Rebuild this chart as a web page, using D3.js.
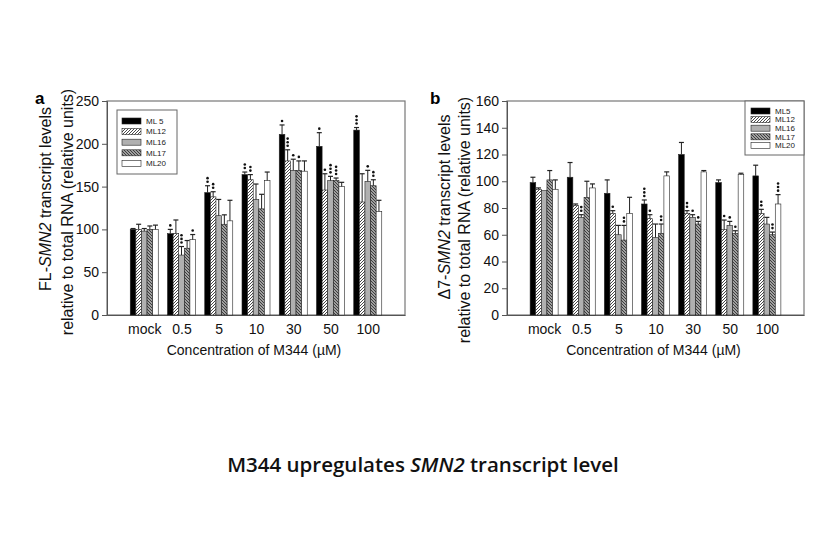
<!DOCTYPE html>
<html>
<head>
<meta charset="utf-8">
<script src="https://d3js.org/d3.v7.min.js"></script>
<style>
  body { margin: 0; background: #fff; }
  svg { display: block; font-family: "Liberation Sans", Arial, sans-serif; }
  .tick text { font-size: 14px; fill: #111; }
</style>
</head>
<body>
<svg id="chart" width="839" height="553"></svg>
<script>
const groups = ["mock", "0.5", "5", "10", "30", "50", "100"];
const seriesA = ["ML 5", "ML12", "ML16", "ML17", "ML20"];
const seriesB = ["ML5", "ML12", "ML16", "ML17", "ML20"];
const ticksA = [0, 50, 100, 150, 200, 250];
const ticksB = [0, 20, 40, 60, 80, 100, 120, 140, 160];

// panel a: FL-SMN2
const flML5  = [100, 95, 143, 164, 211, 197, 216];
const flML12 = [100, 95, 138, 158, 180, 146, 132];
const flML16 = [98, 70, 116, 135, 169, 157, 156];
const flML17 = [100, 78, 106, 124, 169, 157, 151];
const flML20 = [100, 88, 110, 157, 168, 150, 121];
const flErr5  = [1, 5, 8, 3, 11, 16, 3];
const flErr12 = [6, 16, 6, 6, 13, 19, 33];
const flErr16 = [3, 10, 19, 18, 13, 5, 13];
const flErr17 = [4, 9, 11, 17, 11, 3, 7];
const flErr20 = [5, 6, 24, 10, 12, 5, 13];
const flStar5  = [0, 1, 2, 2, 1, 1, 3];
const flStar12 = [0, 0, 2, 2, 3, 1, 0];
const flStar16 = [0, 3, 0, 0, 1, 3, 1];
const flStar17 = [0, 0, 0, 0, 1, 3, 2];
const flStar20 = [0, 1, 0, 0, 0, 0, 0];

// panel b: delta7-SMN2
const dML5  = [99, 103, 91, 83, 120, 99, 104];
const dML12 = [94, 82, 76, 72, 76, 64, 76];
const dML16 = [93, 73, 60, 58, 73, 67, 68];
const dML17 = [101, 88, 56, 61, 68, 61, 60];
const dML20 = [94, 95, 76, 104, 107, 105, 83];
const dErr5  = [4, 11, 10, 3, 9, 2, 8];
const dErr12 = [1, 1, 2, 3, 2, 7, 3];
const dErr16 = [0, 2, 7, 10, 2, 3, 5];
const dErr17 = [7, 12, 11, 7, 2, 2, 2];
const dErr20 = [7, 3, 12, 3, 1, 1, 7];
const dStar5  = [0, 0, 0, 3, 0, 0, 0];
const dStar12 = [0, 0, 1, 1, 2, 1, 2];
const dStar16 = [0, 2, 0, 0, 1, 1, 0];
const dStar17 = [0, 0, 2, 2, 1, 1, 2];
const dStar20 = [0, 0, 0, 0, 0, 0, 3];

const svg = d3.select("#chart");
const defs = svg.append("defs");

function hatch(id, dir, bg) {
  const p = defs.append("pattern").attr("id", id)
    .attr("patternUnits", "userSpaceOnUse").attr("width", 3).attr("height", 3);
  p.append("rect").attr("width", 3).attr("height", 3).attr("fill", bg);
  if (dir > 0) {
    p.append("path").attr("d", "M-1,1 l2,-2 M0,3 l3,-3 M2,4 l2,-2").attr("stroke", "#333").attr("stroke-width", 0.9);
  } else {
    p.append("path").attr("d", "M-1,2 l2,2 M0,0 l3,3 M2,-1 l2,2").attr("stroke", "#333").attr("stroke-width", 0.9);
  }
}
hatch("h12", 1, "#fff");
hatch("h17", -1, "#a0a0a0");
const fills = ["#000", "url(#h12)", "#b0b0b0", "url(#h17)", "#fff"];

function panel(opt) {
  const g = svg.append("g");
  const x = d3.scalePoint().domain(groups).range([opt.left, opt.right]).padding(1);
  const y = d3.scaleLinear().domain([0, opt.max]).range([opt.bottom, opt.top]);
  const x1 = d3.scaleBand().domain(d3.range(5)).range([-14, 14]);

  // frame
  g.append("rect").attr("x", opt.left).attr("y", opt.top)
    .attr("width", opt.right - opt.left).attr("height", opt.bottom - opt.top)
    .attr("fill", "none").attr("stroke", "#777").attr("stroke-width", 1.2);

  const yAxis = g.append("g").attr("transform", "translate(" + opt.left + ",0)")
    .call(d3.axisLeft(y).tickValues(opt.ticks).tickSize(5).tickPadding(3));
  yAxis.select(".domain").attr("stroke", "#555");
  yAxis.selectAll(".tick line").attr("stroke", "#555");

  const xAxis = g.append("g").attr("transform", "translate(0," + opt.bottom + ")")
    .call(d3.axisBottom(x).tickSize(0).tickPadding(9));
  xAxis.select(".domain").attr("stroke", "#555");

  opt.vals.forEach(function(vals, s) {
    const sg = g.append("g");
    vals.forEach(function(v, i) {
      const bx = x(groups[i]) + x1(s);
      const bw = x1.bandwidth();
      sg.append("rect")
        .attr("x", bx).attr("y", y(v))
        .attr("width", bw).attr("height", y(0) - y(v))
        .attr("fill", fills[s]).attr("stroke", "#222").attr("stroke-width", 0.6);
      const e = opt.errs[s][i];
      const cx = bx + bw / 2;
      if (e > 0) {
        sg.append("line").attr("x1", cx).attr("x2", cx)
          .attr("y1", y(v)).attr("y2", y(v + e)).attr("stroke", "#222").attr("stroke-width", 1);
        sg.append("line").attr("x1", cx - 2.5).attr("x2", cx + 2.5)
          .attr("y1", y(v + e)).attr("y2", y(v + e)).attr("stroke", "#222").attr("stroke-width", 1.2);
      }
      const n = opt.stars[s][i];
      for (let k = 0; k < n; k++) {
        sg.append("circle").attr("cx", cx).attr("cy", y(v + e) - 4 - k * 3.6)
          .attr("r", 1.3).attr("fill", "#111");
      }
    });
  });

  // legend
  const lg = g.append("g").attr("transform", "translate(" + opt.leg.x + "," + opt.leg.y + ")");
  lg.append("rect").attr("width", opt.leg.w).attr("height", opt.leg.h)
    .attr("fill", "#fff").attr("stroke", "#666").attr("stroke-width", 1);
  opt.names.forEach(function(name, s) {
    const ry = opt.leg.pad + s * opt.leg.step;
    lg.append("rect").attr("x", opt.leg.sx).attr("y", ry - 3)
      .attr("width", opt.leg.sw).attr("height", 6)
      .attr("fill", fills[s]).attr("stroke", "#222").attr("stroke-width", 0.6);
    lg.append("text").attr("x", opt.leg.sx + opt.leg.sw + 5).attr("y", ry)
      .attr("dy", "0.35em").attr("font-size", opt.leg.fs).attr("fill", "#222").text(name);
  });

  // panel letter
  g.append("text").attr("x", opt.letterX).attr("y", opt.top + 3)
    .attr("font-size", 17).attr("font-weight", "bold").text(opt.letter);

  // y title
  const t1 = g.append("text").attr("transform", "translate(" + opt.yt1 + "," + opt.yc1 + ") rotate(-90)")
    .attr("text-anchor", "middle").attr("font-size", 16).attr("fill", "#111");
  t1.append("tspan").text(opt.pre);
  t1.append("tspan").attr("font-style", "italic").text("SMN2");
  t1.append("tspan").text(" transcript levels");
  g.append("text").attr("transform", "translate(" + opt.yt2 + "," + opt.yc2 + ") rotate(-90)")
    .attr("text-anchor", "middle").attr("font-size", 16).attr("fill", "#111")
    .text("relative to total RNA (relative units)");

  // x title
  g.append("text").attr("x", (opt.left + opt.right) / 2 - 2).attr("y", opt.bottom + 40)
    .attr("text-anchor", "middle").attr("font-size", 14).attr("fill", "#111")
    .text("Concentration of M344 (\u00b5M)");
}

panel({
  left: 107, right: 405, top: 101, bottom: 315, max: 250, ticks: ticksA,
  vals: [flML5, flML12, flML16, flML17, flML20],
  errs: [flErr5, flErr12, flErr16, flErr17, flErr20],
  stars: [flStar5, flStar12, flStar16, flStar17, flStar20],
  names: seriesA,
  leg: { x: 117, y: 110, w: 60, h: 64, pad: 11, step: 10.6, sx: 5, sw: 19, fs: 8 },
  letter: "a", letterX: 35, pre: "FL-", yt1: 51, yt2: 73, yc1: 199, yc2: 212
});

panel({
  left: 507, right: 804, top: 101, bottom: 315, max: 160, ticks: ticksB,
  vals: [dML5, dML12, dML16, dML17, dML20],
  errs: [dErr5, dErr12, dErr16, dErr17, dErr20],
  stars: [dStar5, dStar12, dStar16, dStar17, dStar20],
  names: seriesB,
  leg: { x: 745, y: 101, w: 59, h: 54, pad: 10, step: 8.6, sx: 6, sw: 19, fs: 8 },
  letter: "b", letterX: 430, pre: "\u03947-", yt1: 450, yt2: 470, yc1: 207, yc2: 220
});

// caption
const cap = svg.append("text").attr("x", 423).attr("y", 472).attr("text-anchor", "middle")
  .attr("font-family", "'Open Sans', sans-serif").attr("font-size", 20.5)
  .attr("font-weight", 600).attr("fill", "#111");
cap.append("tspan").text("M344 upregulates ");
cap.append("tspan").attr("font-style", "italic").text("SMN2");
cap.append("tspan").text(" transcript level");
</script>
</body>
</html>
